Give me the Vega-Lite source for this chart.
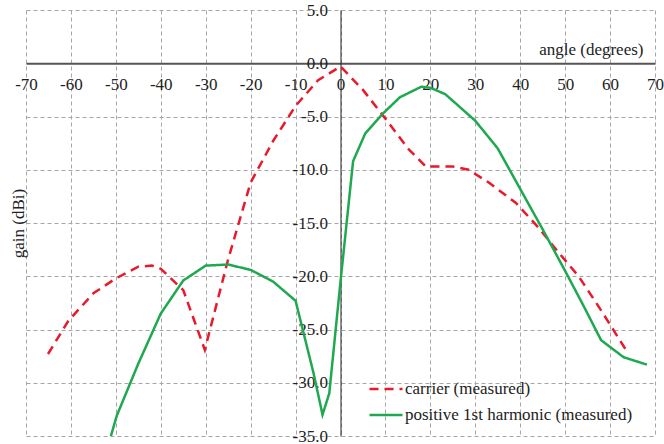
{
  "$schema": "https://vega.github.io/schema/vega-lite/v6.json",
  "autosize": "none",
  "padding": {"left": 26, "top": 10, "right": 9, "bottom": 8},
  "width": 629,
  "height": 426,
  "background": "white",
  "config": {
    "view": {"stroke": null},
    "font": "Liberation Serif"
  },
  "data": {
    "values": [
      {"angle": -65.1, "gain": -27.3, "series": "carrier (measured)"},
      {"angle": -60.6, "gain": -24.2, "series": "carrier (measured)"},
      {"angle": -55, "gain": -21.6, "series": "carrier (measured)"},
      {"angle": -50, "gain": -20.2, "series": "carrier (measured)"},
      {"angle": -45, "gain": -19.1, "series": "carrier (measured)"},
      {"angle": -42, "gain": -19.0, "series": "carrier (measured)"},
      {"angle": -40, "gain": -19.3, "series": "carrier (measured)"},
      {"angle": -35, "gain": -21.3, "series": "carrier (measured)"},
      {"angle": -30.2, "gain": -26.9, "series": "carrier (measured)"},
      {"angle": -25, "gain": -18.4, "series": "carrier (measured)"},
      {"angle": -20, "gain": -11.2, "series": "carrier (measured)"},
      {"angle": -15, "gain": -7.3, "series": "carrier (measured)"},
      {"angle": -10, "gain": -4.0, "series": "carrier (measured)"},
      {"angle": -5, "gain": -1.6, "series": "carrier (measured)"},
      {"angle": 0, "gain": -0.3, "series": "carrier (measured)"},
      {"angle": 5, "gain": -2.5, "series": "carrier (measured)"},
      {"angle": 10, "gain": -5.2, "series": "carrier (measured)"},
      {"angle": 15, "gain": -8.0, "series": "carrier (measured)"},
      {"angle": 19, "gain": -9.7, "series": "carrier (measured)"},
      {"angle": 25, "gain": -9.7, "series": "carrier (measured)"},
      {"angle": 28.5, "gain": -10.0, "series": "carrier (measured)"},
      {"angle": 33, "gain": -11.2, "series": "carrier (measured)"},
      {"angle": 39, "gain": -13.1, "series": "carrier (measured)"},
      {"angle": 44, "gain": -15.4, "series": "carrier (measured)"},
      {"angle": 48, "gain": -17.5, "series": "carrier (measured)"},
      {"angle": 53, "gain": -20.0, "series": "carrier (measured)"},
      {"angle": 58, "gain": -23.2, "series": "carrier (measured)"},
      {"angle": 63.8, "gain": -27.1, "series": "carrier (measured)"},
      {"angle": -51.1, "gain": -35.0, "series": "positive 1st harmonic (measured)"},
      {"angle": -49.8, "gain": -33.1, "series": "positive 1st harmonic (measured)"},
      {"angle": -45, "gain": -28.2, "series": "positive 1st harmonic (measured)"},
      {"angle": -40, "gain": -23.5, "series": "positive 1st harmonic (measured)"},
      {"angle": -35, "gain": -20.4, "series": "positive 1st harmonic (measured)"},
      {"angle": -30, "gain": -19.0, "series": "positive 1st harmonic (measured)"},
      {"angle": -25, "gain": -18.9, "series": "positive 1st harmonic (measured)"},
      {"angle": -20, "gain": -19.4, "series": "positive 1st harmonic (measured)"},
      {"angle": -15, "gain": -20.5, "series": "positive 1st harmonic (measured)"},
      {"angle": -10, "gain": -22.3, "series": "positive 1st harmonic (measured)"},
      {"angle": -6, "gain": -29.1, "series": "positive 1st harmonic (measured)"},
      {"angle": -4, "gain": -33.0, "series": "positive 1st harmonic (measured)"},
      {"angle": -2.5, "gain": -31.0, "series": "positive 1st harmonic (measured)"},
      {"angle": 0, "gain": -20.5, "series": "positive 1st harmonic (measured)"},
      {"angle": 2.8, "gain": -9.2, "series": "positive 1st harmonic (measured)"},
      {"angle": 5.5, "gain": -6.6, "series": "positive 1st harmonic (measured)"},
      {"angle": 9.5, "gain": -4.7, "series": "positive 1st harmonic (measured)"},
      {"angle": 13.2, "gain": -3.2, "series": "positive 1st harmonic (measured)"},
      {"angle": 18, "gain": -2.2, "series": "positive 1st harmonic (measured)"},
      {"angle": 20, "gain": -2.3, "series": "positive 1st harmonic (measured)"},
      {"angle": 23.3, "gain": -2.9, "series": "positive 1st harmonic (measured)"},
      {"angle": 26, "gain": -3.9, "series": "positive 1st harmonic (measured)"},
      {"angle": 30, "gain": -5.4, "series": "positive 1st harmonic (measured)"},
      {"angle": 35, "gain": -8.0, "series": "positive 1st harmonic (measured)"},
      {"angle": 40, "gain": -11.8, "series": "positive 1st harmonic (measured)"},
      {"angle": 45, "gain": -15.6, "series": "positive 1st harmonic (measured)"},
      {"angle": 50, "gain": -19.5, "series": "positive 1st harmonic (measured)"},
      {"angle": 54, "gain": -22.7, "series": "positive 1st harmonic (measured)"},
      {"angle": 58, "gain": -26.0, "series": "positive 1st harmonic (measured)"},
      {"angle": 63, "gain": -27.6, "series": "positive 1st harmonic (measured)"},
      {"angle": 68.2, "gain": -28.3, "series": "positive 1st harmonic (measured)"}
    ]
  },
  "mark": {"type": "line", "strokeWidth": 2.5, "clip": true},
  "encoding": {
    "x": {
      "field": "angle",
      "type": "quantitative",
      "scale": {"domain": [-70, 70], "nice": false, "zero": false},
      "axis": {
        "offset": -372.75,
        "values": [-70, -60, -50, -40, -30, -20, -10, 0, 10, 20, 30, 40, 50, 60, 70],
        "labelExpr": "replace(datum.label, '−', '-')",
        "title": "angle (degrees)",
        "titleX": 617,
        "titleY": -14,
        "titleAlign": "right",
        "titleBaseline": "middle",
        "titleFont": "Liberation Serif",
        "titleFontSize": 17,
        "titleFontWeight": "normal",
        "titleColor": "#222222",
        "labelFont": "Liberation Serif",
        "labelFontSize": 17,
        "labelColor": "#222222",
        "labelPadding": 13,
        "labelOverlap": false,
        "labelFlush": false,
        "labelBound": false,
        "ticks": false,
        "domainColor": "#555555",
        "domainWidth": 2,
        "grid": true,
        "gridColor": "#a6a6a6",
        "gridDash": [4, 3],
        "gridWidth": 1
      }
    },
    "y": {
      "field": "gain",
      "type": "quantitative",
      "scale": {"domain": [-35, 5], "nice": false, "zero": false},
      "axis": {
        "offset": -314.5,
        "values": [-35, -30, -25, -20, -15, -10, -5, 0, 5],
        "format": ".1f",
        "labelExpr": "replace(datum.label, '−', '-')",
        "title": "gain (dBi)",
        "titleX": -322.5,
        "titleY": 213,
        "titleAngle": -90,
        "titleAlign": "center",
        "titleBaseline": "middle",
        "titleFont": "Liberation Serif",
        "titleFontSize": 17,
        "titleFontWeight": "normal",
        "titleColor": "#222222",
        "labelFont": "Liberation Serif",
        "labelFontSize": 17,
        "labelColor": "#222222",
        "labelPadding": 13,
        "labelOverlap": false,
        "labelFlush": false,
        "labelBound": false,
        "ticks": false,
        "domainColor": "#222222",
        "domainWidth": 1,
        "grid": true,
        "gridColor": "#a6a6a6",
        "gridDash": [4, 3],
        "gridWidth": 1
      }
    },
    "color": {
      "field": "series",
      "type": "nominal",
      "scale": {
        "domain": ["carrier (measured)", "positive 1st harmonic (measured)"],
        "range": ["#e8192c", "#1ea84f"]
      },
      "legend": {
        "orient": "none",
        "legendX": 342,
        "legendY": 361,
        "title": null,
        "symbolType": "stroke",
        "symbolSize": 1089,
        "symbolStrokeWidth": 2.5,
        "labelFont": "Liberation Serif",
        "labelFontSize": 17,
        "labelColor": "#222222",
        "labelOffset": 1,
        "rowPadding": -1,
        "labelLimit": 400
      }
    },
    "strokeDash": {
      "field": "series",
      "type": "nominal",
      "scale": {
        "domain": ["carrier (measured)", "positive 1st harmonic (measured)"],
        "range": [[9, 6], [1, 0]]
      },
      "legend": {
        "orient": "none",
        "legendX": 342,
        "legendY": 361,
        "title": null,
        "symbolType": "stroke",
        "symbolSize": 1089,
        "symbolStrokeWidth": 2.5,
        "labelFont": "Liberation Serif",
        "labelFontSize": 17,
        "labelColor": "#222222",
        "labelOffset": 1,
        "rowPadding": -1,
        "labelLimit": 400
      }
    }
  }
}
